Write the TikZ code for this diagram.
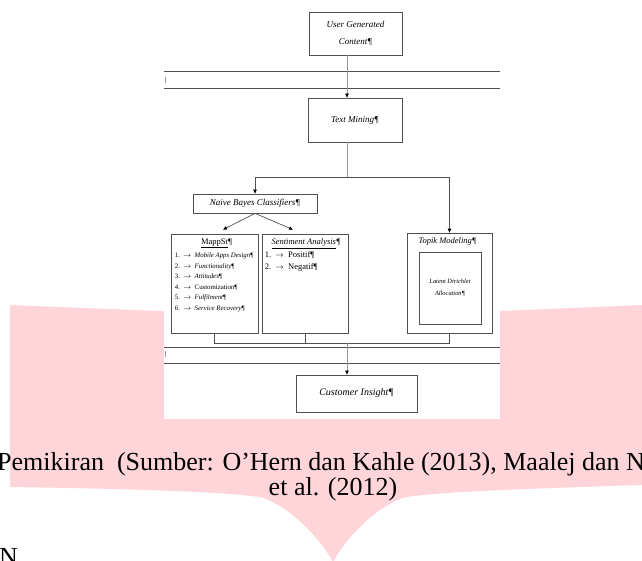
\documentclass[tikz,border=0pt]{standalone}
\usepackage{fontspec}
\setmainfont{Liberation Serif}
\usetikzlibrary{arrows.meta,calc}
\definecolor{banner}{RGB}{255,213,218}
\definecolor{ln}{RGB}{80,80,80}
\definecolor{conn}{RGB}{150,150,150}
\begin{document}
\begin{tikzpicture}[
    x=1pt,y=-1pt,
    blk/.style={draw=ln,line width=0.7pt,inner sep=0pt,align=center,
      font=\fontsize{9}{17}\selectfont\itshape},
    hd/.style={inner sep=0pt,font=\fontsize{8.5}{10}\selectfont},
    lst/.style={inner sep=0pt,align=left,font=\fontsize{6.8}{10.6}\selectfont},
    lnk/.style={draw=conn,line width=0.6pt},
    dk/.style={draw=ln,line width=0.7pt},
    arr/.style={-{Triangle[length=4pt,width=3.4pt,color=black]}},
    captxt/.style={inner sep=0pt,font=\fontsize{26}{30}\selectfont}
  ]
  \path[use as bounding box] (0,0) rectangle (642,560);
  % Page background.
  \fill[banner] (10,305) -- (335,318) -- (642,305) -- (642,485)
    .. controls (520,489) and (430,492) .. (402,498)
    .. controls (372,510) and (345,540) .. (333,562)
    .. controls (321,540) and (294,510) .. (264,498)
    .. controls (236,492) and (140,489) .. (10,487) -- cycle;
  \fill[white] (164,0) rectangle (500,419);
  \draw[ln,line width=0.8pt] (164,71) -- (500,71) (164,88) -- (500,88);
  \draw[ln,line width=0.8pt] (164,347) -- (500,347) (164,363) -- (500,363);
  \draw[conn,line width=0.4pt] (165,77) -- (165,83) (165,351) -- (165,357);
  % Boxes.
  \node[blk,minimum width=93,minimum height=43] (ugc) at (355.5,33.5) {User Generated\\Content¶};
  \node[blk,minimum width=94,minimum height=44] (tm) at (355,120) {Text Mining¶};
  \node[blk,minimum width=124,minimum height=19] (nbc) at (255,203.5) {Naive Bayes Classifiers¶};
  \node[blk,minimum width=87,minimum height=99] (map) at (214.5,283.5) {};
  \node[blk,minimum width=86,minimum height=99] (sent) at (305,283.5) {};
  \node[blk,minimum width=85,minimum height=100] (topic) at (449.5,283) {};
  \node[blk,minimum width=62,minimum height=72,font=\fontsize{6.4}{12}\selectfont\itshape] (lda)
    at (450,288) {Latent Dirichlet\\Allocation¶};
  \node[blk,minimum width=121,minimum height=37,font=\fontsize{10}{12}\selectfont\itshape] (ci)
    at (356.5,393.5) {Customer Insight¶};
  % Box contents.
  \node[hd,anchor=north] (maphd) at ($(map.north)+(2,5)$) {\underline{MappSt}¶};
  \node[lst,anchor=north west] (maplst) at ($(map.north west)+(4,19)$)
    {1.\enspace\(\rightarrow\)\enspace\textit{Mobile Apps Design}¶\\
     2.\enspace\(\rightarrow\)\enspace\textit{Functionality}¶\\
     3.\enspace\(\rightarrow\)\enspace\textit{Attitudes}¶\\
     4.\enspace\(\rightarrow\)\enspace Customization¶\\
     5.\enspace\(\rightarrow\)\enspace\textit{Fulfilment}¶\\
     6.\enspace\(\rightarrow\)\enspace\textit{Service Recovery}¶};
  \node[hd,anchor=north] (senthd) at ($(sent.north)+(1,5)$) {\itshape\underline{Sentiment Analysis}¶};
  \node[lst,anchor=north west,font=\fontsize{8.5}{12}\selectfont] (sentlst) at ($(sent.north west)+(3,18)$)
    {1.\enspace\(\rightarrow\)\enspace Positif¶\\
     2.\enspace\(\rightarrow\)\enspace Negatif¶};
  \node[hd,anchor=north,font=\fontsize{8.5}{10}\selectfont\itshape] (tophd) at ($(topic.north)+(-2,5)$) {Topik Modeling¶};
  % Connectors.
  \coordinate (spine) at (347,0);
  \coordinate (fork) at (347,177);
  \coordinate (join) at (347,343);
  \draw[lnk,arr] (ugc.south -| spine) -- (tm.north -| spine);
  \draw[lnk] (tm.south -| spine) -- (fork);
  \draw[dk,arr] (fork) -| (nbc.north);
  \draw[dk,arr] (fork) -| (topic.north);
  \draw[dk,arr] (nbc.south) -- ($(map.north)+(8.5,-4)$);
  \draw[dk,arr] (nbc.south) -- ($(sent.north)+(-12,-4)$);
  \draw[dk] (map.south) -- (map.south |- join) -- (topic.south |- join) -- (topic.south);
  \draw[dk] (sent.south) -- (sent.south |- join);
  \draw[lnk,arr] (join) -- (ci.north -| spine);
  % Caption.
  \node[captxt,anchor=base west] (cap1) at (-3,470) {Pemikiran\ \ (Sumber: O’Hern dan Kahle (2013), Maalej dan N};
  \node[captxt,anchor=base] (cap2) at (333,495) {et al. (2012)};
  \node[captxt,anchor=base west] (sec) at (-1,565) {N};
\end{tikzpicture}
\end{document}
